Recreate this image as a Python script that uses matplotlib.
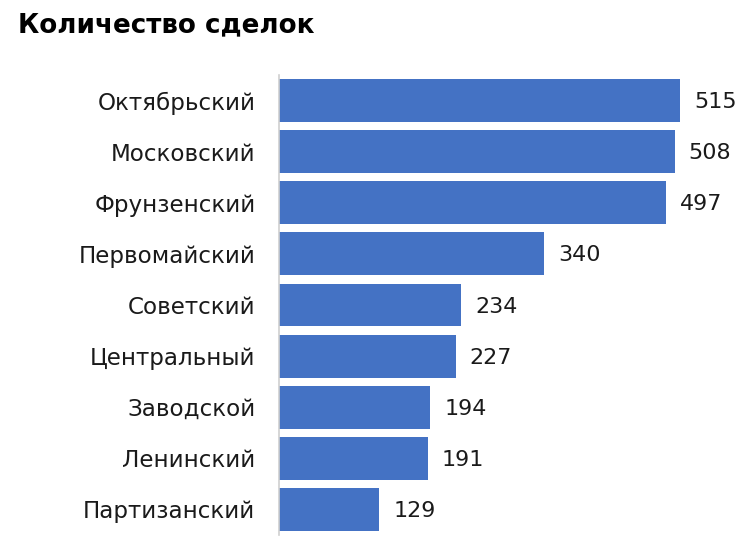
import matplotlib.pyplot as plt

plt.rcParams['font.family'] = ['DejaVu Sans']

districts = ["Октябрьский", "Московский", "Фрунзенский", "Первомайский", "Советский",
             "Центральный", "Заводской", "Ленинский", "Партизанский"]
deals = [515, 508, 497, 340, 234, 227, 194, 191, 129]

fig = plt.figure(figsize=(7.44, 5.41), dpi=100)
ax = fig.add_axes([279 / 744, 1 - 535 / 541, 465 / 744, 460 / 541])

ax.barh(range(len(districts)), deals, height=0.84, color="#4472c4")
ax.set_ylim(len(districts) - 0.5, -0.5)
ax.set_xlim(0, 465 / (401 / 515))

for i, v in enumerate(deals):
    ax.text(v + 18, i + 0.03, str(v), va="center", ha="left", fontsize=16, color="#1a1a1a")

ax.set_yticks(range(len(districts)))
ax.set_yticklabels(districts, fontsize=16.6, color="#1a1a1a")
ax.tick_params(axis="y", length=0, pad=17)
ax.set_xticks([])
for s in ["top", "right", "bottom"]:
    ax.spines[s].set_visible(False)
ax.spines["left"].set_color("#d0d0d0")
ax.spines["left"].set_linewidth(1.2)

fig.text(18 / 744, 1 - 32 / 541, "Количество сделок", fontsize=18.8, fontweight="bold",
         ha="left", va="baseline", color="#000000")

fig.savefig("out.png", dpi=100)
